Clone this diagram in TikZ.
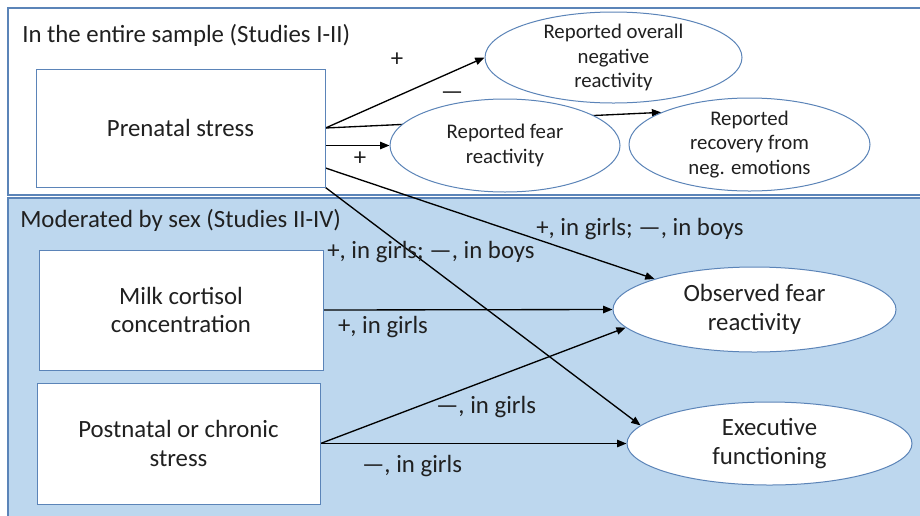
\documentclass[tikz,border=0pt]{standalone}
\usepackage{fontspec}
\setmainfont{Carlito}
\usetikzlibrary{arrows.meta,shapes.geometric,calc}
\definecolor{panelblue}{HTML}{BDD7EE}
\definecolor{edgeblue}{HTML}{5B84B8}
\definecolor{txt}{HTML}{202020}
\pgfdeclarelayer{panel}
\pgfdeclarelayer{arrows}
\pgfsetlayers{panel,arrows,main}
\begin{document}
\begin{tikzpicture}[x=0.75pt,y=-0.75pt,
  big/.style={font=\fontsize{18.6}{21.5}\selectfont, text=txt},
  small/.style={font=\fontsize{15.6}{18.5}\selectfont, text=txt},
  rectnode/.style={draw=edgeblue, line width=0.75pt, fill=white, rectangle, inner sep=0pt, align=center, big},
  ellnode/.style={draw=edgeblue, line width=0.75pt, fill=white, ellipse, inner xsep=0pt, inner ysep=-8pt, align=center},
  arr/.style={draw=black, line width=1pt, -{Triangle[length=7pt,width=5.5pt]}},
  lbl/.style={big, inner sep=0pt, anchor=base},
]
\useasboundingbox (0,0) rectangle (920,515);

\begin{pgfonlayer}{panel}
  \clip (0,0) rectangle (920,515);
  \draw[edgeblue, line width=1pt, fill=white] (8,8) rectangle (925,195);
  \draw[edgeblue, line width=1pt, fill=panelblue] (8,198) rectangle (925,520);
\end{pgfonlayer}

\node[big, inner sep=0pt, anchor=base west] (t1) at (22,42) {In the entire sample (Studies I-II)};
\node[big, inner sep=0pt, anchor=base west] (t2) at (20,227) {Moderated by sex (Studies II-IV)};

\node[rectnode, minimum width=216.75pt, minimum height=88.5pt] (prenatal) at (180.5,128) {Prenatal stress};
\node[rectnode, minimum width=213pt, minimum height=90pt] (milk) at (181,310) {Milk cortisol\\concentration};
\node[rectnode, minimum width=212.25pt, minimum height=90.75pt] (postnatal) at (178.5,443.5) {Postnatal or chronic\\stress};

\node[ellnode, small, minimum width=192.75pt, minimum height=68.25pt] (overall) at (613.5,57.5) {Reported overall\\negative\\reactivity};
\node[ellnode, small, minimum width=172.5pt, minimum height=69.75pt] (fear) at (505,145.5) {Reported fear\\reactivity};
\node[ellnode, small, minimum width=180.75pt, minimum height=69.75pt] (recovery) at (749.5,144.5) {Reported\\recovery from\\neg. emotions};
\node[ellnode, big, minimum width=212.25pt, minimum height=63.75pt] (observed) at (754.5,309.5) {Observed fear\\reactivity};
\node[ellnode, big, minimum width=213.75pt, minimum height=62.25pt] (executive) at (769.5,443.5) {Executive\\functioning};

\begin{pgfonlayer}{arrows}
  \draw[arr] (prenatal.east) -- (overall.west);
  \draw[arr] (prenatal.east) -- (recovery.160);
  \draw[arr] (prenatal.east |- fear.west) -- (fear.west);
  \draw[arr] ($(prenatal.east)+(0,40)$) -- (observed.163);
  \draw[arr] (prenatal.south east) -- (executive.172);
  \draw[arr] (milk.east) -- (observed.west);
  \draw[arr] (postnatal.east) -- (observed.188);
  \draw[arr] (postnatal.east) -- (executive.west);
\end{pgfonlayer}

\node[lbl] (l1) at (397,66) {+};
\node[lbl] (l2) at (452,99) {—};
\node[lbl] (l3) at (360,165) {+};
\node[lbl] (l4) at (640,235) {+, in girls; —, in boys};
\node[lbl] (l5) at (431,258) {+, in girls; —, in boys};
\node[lbl] (l6) at (383,333) {+, in girls};
\node[lbl] (l7) at (486,413) {—, in girls};
\node[lbl] (l8) at (412,472) {—, in girls};
\end{tikzpicture}
\end{document}
